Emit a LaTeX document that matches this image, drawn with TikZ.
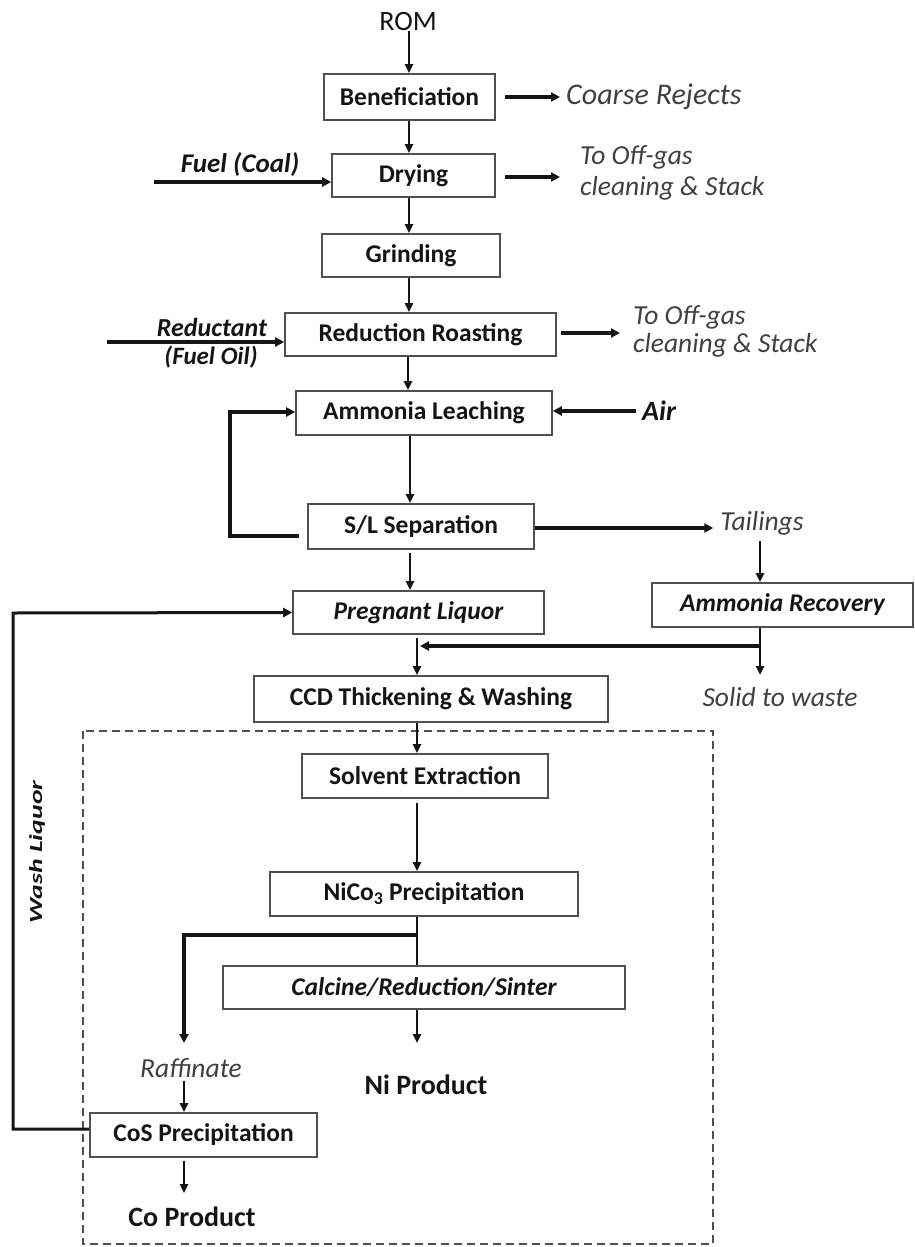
\documentclass[tikz,border=0pt]{standalone}
\usepackage{fontspec}
\usepackage{graphicx}
\setmainfont{Carlito}
\usetikzlibrary{arrows.meta,calc}

\definecolor{boxline}{HTML}{505050}
\definecolor{labelgray}{HTML}{404040}
\definecolor{ink}{HTML}{151515}

\tikzset{
  stage/.style={draw=boxline, line width=1.6pt, fill=white, inner sep=0pt,
    text=ink, font=\fontsize{25.5}{30}\selectfont\bfseries},
  stageit/.style={stage, font=\fontsize{25.5}{30}\selectfont\bfseries\itshape},
  note/.style={inner sep=0pt, text=labelgray, font=\fontsize{27.5}{31}\selectfont\itshape},
  feed/.style={inner sep=0pt, text=ink, font=\fontsize{26}{30}\selectfont\bfseries\itshape},
  product/.style={inner sep=0pt, text=ink, font=\fontsize{28}{32}\selectfont\bfseries},
  flow/.style={draw=ink, line width=2.4pt, -{Triangle[length=9pt,width=8pt]}},
  heavyflow/.style={flow, line width=3.2pt, -{Triangle[length=9pt,width=9pt]}},
  plainline/.style={draw=ink, line width=2.4pt},
  region/.style={draw=boxline, line width=2.2pt, dash pattern=on 8pt off 5pt},
}

\begin{document}
\begin{tikzpicture}[x=1pt,y=-1pt]
\useasboundingbox[fill=white] (0,0) rectangle (915,1247);

% flow columns
\coordinate (colA) at (409,0);
\coordinate (colB) at (417,0);
\coordinate (colC) at (760,0);
\coordinate (colD) at (184,0);

% process stages
\node[stage, minimum width=171pt, minimum height=46pt] (ben)   at (409.5,97)   {Beneficiation};
\node[stage, minimum width=163pt, minimum height=43pt] (dry)   at (413.5,175.5){Drying};
\node[stage, minimum width=178pt, minimum height=43pt] (grind) at (411,255.5)  {Grinding};
\node[stage, minimum width=271pt, minimum height=43pt] (rr)    at (420.5,334.5){Reduction Roasting};
\node[stage, minimum width=256pt, minimum height=44pt] (al)    at (424,413)    {Ammonia Leaching};
\node[stage, minimum width=226pt, minimum height=45pt] (sl)    at (421,526.5)  {S/L Separation};
\node[stageit, minimum width=261pt, minimum height=44pt] (ar)  at (782.5,605)  {Ammonia Recovery};
\node[stageit, minimum width=251pt, minimum height=43pt] (pl)  at (418.5,612.5){Pregnant Liquor};
\node[stage, minimum width=354pt, minimum height=46pt] (ccd)   at (431,699)    {CCD Thickening \& Washing};
\node[stage, minimum width=246pt, minimum height=44pt] (se)    at (425,776)    {Solvent Extraction};
\node[stage, minimum width=308pt, minimum height=44pt] (nico)  at (424,894)    {NiCo\textsubscript{3} Precipitation};
\node[stageit, minimum width=402pt, minimum height=43pt] (calc)at (424,987.5)  {Calcine/Reduction/Sinter};
\node[stage, minimum width=227pt, minimum height=44pt] (cos)   at (203.5,1135) {CoS Precipitation};

% stream labels
\node[inner sep=0pt, text=ink, font=\fontsize{28}{30}\selectfont] (rom) at (408,22) {ROM};
\node[note, anchor=west, font=\fontsize{30}{31}\selectfont\itshape] (coarse) at (566,97) {Coarse Rejects};
\node[note, anchor=west, align=left, font=\fontsize{27.5}{31}\selectfont\itshape] (off1) at (580,172.5) {To Off-gas\\cleaning \& Stack};
\node[note, anchor=west, align=left, font=\fontsize{27.5}{28}\selectfont\itshape] (off2) at (633,331) {To Off-gas\\cleaning \& Stack};
\node[feed, font=\fontsize{27}{30}\selectfont\bfseries\itshape] (fuel) at (240,165) {Fuel (Coal)};
\node[feed] (red) at (212,327) {Reductant};
\node[feed, font=\fontsize{25}{30}\selectfont\bfseries\itshape] (oil) at (211,357) {(Fuel Oil)};
\node[feed, anchor=west, font=\fontsize{28}{30}\selectfont\bfseries\itshape] (air) at (642,411) {Air};
\node[note] (tail) at (762,523) {Tailings};
\node[note] (solid) at (780,697) {Solid to waste};
\node[note] (raff) at (191,1068) {Raffinate};
\node[product] (ni) at (426,1085) {Ni Product};
\node[product] (co) at (192,1217) {Co Product};
\node[inner sep=0pt, text=ink, rotate=90, font=\fontsize{18.5}{20}\selectfont\bfseries\itshape] (wash) at (37,852) {\scalebox{1.5}[1]{Wash Liquor}};

% stream end points
\coordinate (fuelin) at (154,182);
\coordinate (redin) at (107,342);
\coordinate (loopL) at (230,536);
\coordinate (mrg) at (760,646);
\coordinate (br) at (417,935);
\coordinate (raffin) at (184,1043);
\coordinate (nitip) at (417,1043);
\coordinate (cotip) at (184,1193);
\coordinate (solidtip) at (760,675);
\coordinate (washB) at (13,1129);
\coordinate (washT) at (13,613);

% nickel/cobalt recovery circuit
\draw[region] (83,731) rectangle (713,1244);

% main line
\draw[flow] (rom.south -| colA) -- (ben.north -| colA);
\draw[flow] (ben.south -| colA) -- (dry.north -| colA);
\draw[flow] (dry.south -| colA) -- (grind.north -| colA);
\draw[flow] (grind.south -| colA) -- (rr.north -| colA);
\draw[flow] ([xshift=-1pt]rr.south -| colA) -- ([xshift=-1pt]al.north -| colA);
\draw[flow] ([xshift=1pt]al.south -| colA) -- ([xshift=1pt]sl.north -| colA);
\draw[flow] ([xshift=1pt,yshift=-3pt]sl.south -| colA) -- ([xshift=1pt]pl.north -| colA);
\draw[flow] ([yshift=-3pt]pl.south -| colB) -- (ccd.north -| colB);
\draw[flow] (ccd.south -| colB) -- (se.north -| colB);
\draw[flow] ([yshift=-4pt]se.south -| colB) -- (nico.north -| colB);
\draw[plainline] (nico.south -| colB) -- (calc.north -| colB);
\draw[flow] (calc.south -| colB) -- (nitip);
\draw[heavyflow] (br) -| (raffin);
\draw[flow] ([yshift=-3pt]raff.south -| colD) -- (cos.north -| colD);
\draw[flow] ([yshift=-3pt]cos.south -| colD) -- (cotip);

% side streams
\draw[heavyflow, shorten <=9pt, shorten >=6pt] (ben.east) -- (ben.east -| coarse.west);
\draw[heavyflow, shorten <=9pt, shorten >=20pt] ([yshift=-1.5pt]dry.east) -- ([yshift=-1.5pt]dry.east -| off1.west);
\draw[heavyflow, shorten <=4pt, shorten >=13pt] ([yshift=1.5pt]rr.east) -- ([yshift=1.5pt]rr.east -| off2.west);
\draw[heavyflow] (fuelin) -- (fuelin -| dry.west);
\draw[heavyflow] (redin) -- (redin -| rr.west);
\draw[heavyflow, shorten <=6pt] (air.west) -- (air.west -| al.east);
\draw[heavyflow] ([xshift=-8pt,yshift=-9.5pt]sl.west) -- (loopL) |- ([yshift=1pt]al.west);
\draw[heavyflow, shorten >=7pt] ([yshift=-1.5pt]sl.east) -- ([yshift=-1.5pt]sl.east -| tail.west);
\draw[flow] ([yshift=-6pt]tail.south -| colC) -- (ar.north -| colC);
\draw[flow] (ar.south -| colC) -- (solidtip);
\draw[heavyflow, shorten >=3pt] (mrg) -- (mrg -| colB);
\draw[heavyflow, line width=3pt] ([yshift=6pt]cos.west) -- (washB) -- (washT) -- (pl.west);
\end{tikzpicture}
\end{document}
